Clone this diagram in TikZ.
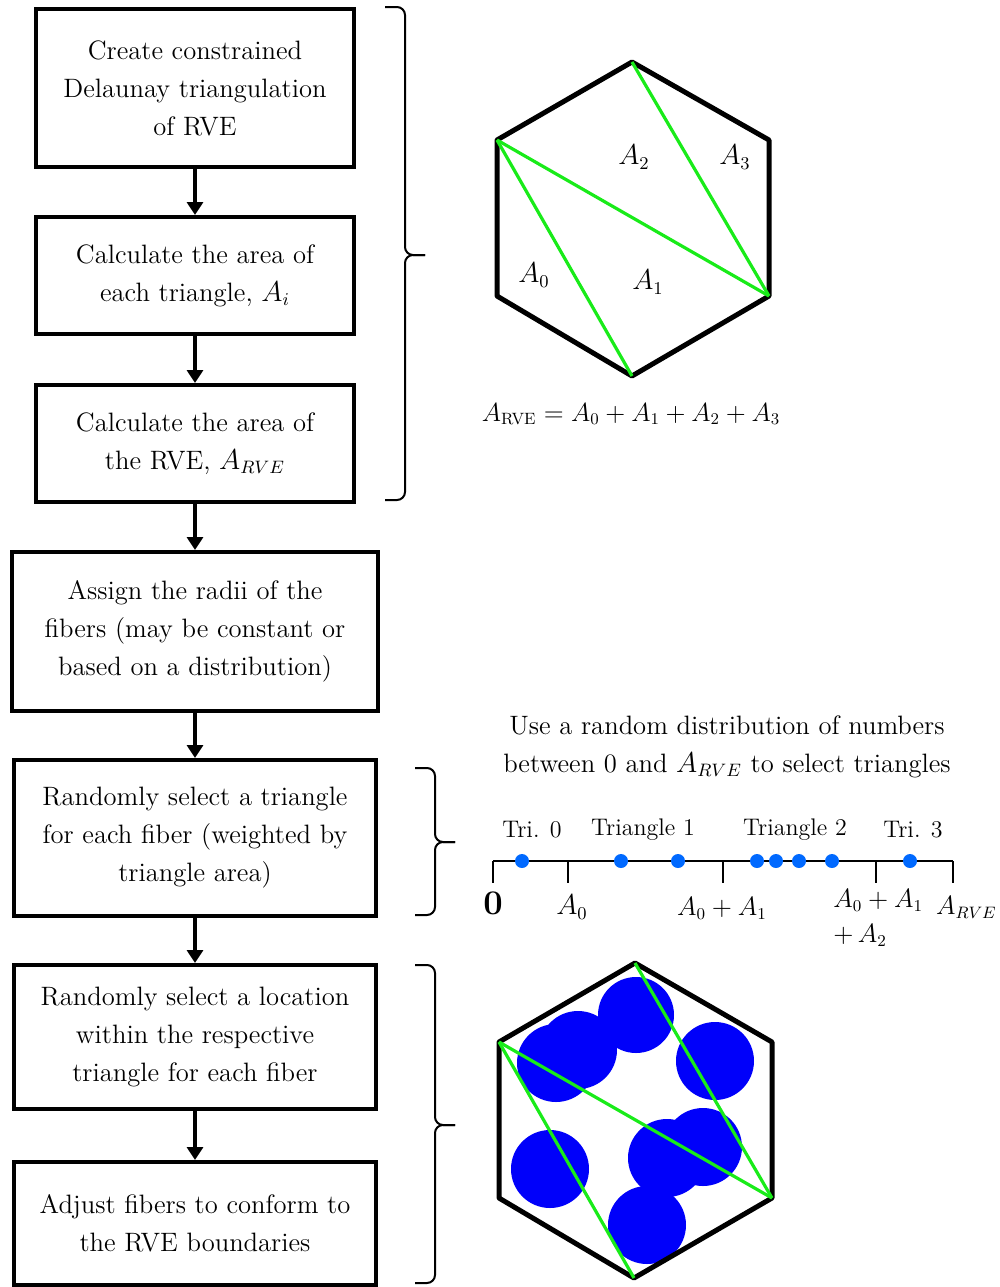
\documentclass[tikz,border=0pt]{standalone}
\usetikzlibrary{arrows.meta}
\definecolor{lime}{RGB}{25,235,25}
\definecolor{dotblue}{RGB}{0,105,255}
\definecolor{fibre}{RGB}{0,0,250}
\begin{document}
\begin{tikzpicture}[x=0.5pt,y=-0.5pt,
 font=\fontsize{13.3}{19}\selectfont,
 stepbox/.style={draw,line width=2pt,align=center,inner sep=0pt},
 arr/.style={line width=2pt,-{Triangle[width=8pt,length=6.5pt]}},
 brc/.style={line width=1pt,rounded corners=4pt},
 hexline/.style={line width=2.5pt,line join=round},
 tri/.style={lime,line width=1.6pt},
 dot/.style={circle,fill=dotblue,inner sep=0pt,minimum size=7pt},
 fib/.style={fill=fibre},
 small/.style={font=\fontsize{12}{15}\selectfont},
 mlab/.style={scale=0.92}]
\useasboundingbox (0,0) rectangle (1000,1287);

% flowchart boxes
\node[stepbox,minimum width=159pt,minimum height=79pt] (b1) at (195,88) {Create constrained\\Delaunay triangulation\\of RVE};
\node[stepbox,minimum width=159pt,minimum height=58.5pt] (b2) at (195,275.5) {Calculate the area of\\each triangle, $A_i$};
\node[stepbox,minimum width=159pt,minimum height=58.5pt] (b3) at (195,443.5) {Calculate the area of\\the RVE, $A_{RVE}$};
\node[stepbox,minimum width=183pt,minimum height=79.5pt] (b4) at (195,631.5) {Assign the radii of the\\fibers (may be constant or\\based on a distribution)};
\node[stepbox,minimum width=181pt,minimum height=78pt] (b5) at (195,838) {Randomly select a triangle\\for each fiber (weighted by\\triangle area)};
\node[stepbox,minimum width=181pt,minimum height=72pt] (b6) at (195,1037) {Randomly select a location\\within the respective\\triangle for each fiber};
\node[stepbox,minimum width=181pt,minimum height=61.5pt] (b7) at (195,1223.5) {Adjust fibers to conform to\\the RVE boundaries};

\draw[arr] (b1) -- (b2);
\draw[arr] (b2) -- (b3);
\draw[arr] (b3) -- (b4);
\draw[arr] (b4) -- (b5);
\draw[arr] (b5) -- (b6);
\draw[arr] (b6) -- (b7);

% braces
\coordinate (br1a) at (385,7);
\coordinate (br1m) at (405,255);
\coordinate (br1t) at (425,255);
\coordinate (br1b) at (385,500);
\draw[brc] (br1a) -| (br1m) -- (br1t);
\draw[brc] (br1t) -- (br1m) |- (br1b);
\coordinate (br2a) at (415,768);
\coordinate (br2m) at (435,842);
\coordinate (br2t) at (455,842);
\coordinate (br2b) at (415,915);
\draw[brc] (br2a) -| (br2m) -- (br2t);
\draw[brc] (br2t) -- (br2m) |- (br2b);
\coordinate (br3a) at (415,965);
\coordinate (br3m) at (435,1125);
\coordinate (br3t) at (455,1125);
\coordinate (br3b) at (415,1283);
\draw[brc] (br3a) -| (br3m) -- (br3t);
\draw[brc] (br3t) -- (br3m) |- (br3b);

% hexagon 1
\coordinate (h1t) at (632,62);
\coordinate (h1ur) at (769,140);
\coordinate (h1lr) at (769,296);
\coordinate (h1b) at (632,376);
\coordinate (h1ll) at (497,296);
\coordinate (h1ul) at (497,140);
\draw[hexline] (h1t) -- (h1ur) -- (h1lr) -- (h1b) -- (h1ll) -- (h1ul) -- cycle;
\draw[tri] (h1ul) -- (h1b);
\draw[tri] (h1ul) -- (h1lr);
\draw[tri] (h1t) -- (h1lr);
\node (la0) at (534,275) {$A_0$};
\node (la1) at (648,282) {$A_1$};
\node (la2) at (634,157) {$A_2$};
\node (la3) at (735,157) {$A_3$};
\node[scale=0.91] (fa) at (631,414) {$A_{\mathrm{RVE}} = A_0 + A_1 + A_2 + A_3$};

% number line
\node[align=center] (ud) at (727,747) {Use a random distribution of numbers\\between 0 and $A_{RVE}$ to select triangles};
\coordinate (n0) at (493,861);
\coordinate (n1) at (568,861);
\coordinate (n2) at (723,861);
\coordinate (n3) at (876,861);
\coordinate (n4) at (953,861);
\draw[line width=1pt] (n0) -- (n4);
\foreach \t in {n0,n1,n2,n3,n4} \draw[line width=1pt] (\t) -- ++(0,22);
\foreach \x/\n in {522/d1,621/d2,678/d3,757/d4,776/d5,799/d6,832/d7,910/d8}
  \node[dot] (\n) at (\x,861) {};
\node[small] (tl0) at (532,830) {Tri. 0};
\node[small] (tl1) at (643,830) {Triangle 1};
\node[small] (tl2) at (795,830) {Triangle 2};
\node[small] (tl3) at (913,830) {Tri. 3};
\node[font=\fontsize{16}{18}\selectfont] (v0) at (493,903) {$\mathbf{0}$};
\node (v1) at (572,907) {$A_0$};
\node[mlab] (v2) at (722,908) {$A_0 + A_1$};
\node[mlab,align=left,anchor=west,inner sep=0pt] (v3) at (833,918) {$A_0 + A_1$\\$+\,A_2$};
\node[mlab,anchor=east,inner sep=0pt] (v4) at (997,907) {$A_{RVE}$};

% hexagon 2 with fibers
\coordinate (h2t) at (635,963);
\coordinate (h2ur) at (772,1042);
\coordinate (h2lr) at (772,1198);
\coordinate (h2b) at (634,1278);
\coordinate (h2ll) at (499,1198);
\coordinate (h2ul) at (499,1042);
\fill[fib] (556,1063) circle (39);
\fill[fib] (578,1050) circle (39);
\fill[fib] (636,1015) circle (38);
\fill[fib] (715,1061) circle (39);
\fill[fib] (550,1169) circle (39);
\fill[fib] (667,1158) circle (39);
\fill[fib] (703,1147) circle (39);
\fill[fib] (647,1225) circle (39);
\draw[hexline] (h2t) -- (h2ur) -- (h2lr) -- (h2b) -- (h2ll) -- (h2ul) -- cycle;
\draw[tri] (h2ul) -- (h2b);
\draw[tri] (h2ul) -- (h2lr);
\draw[tri] (h2t) -- (h2lr);
\end{tikzpicture}
\end{document}
